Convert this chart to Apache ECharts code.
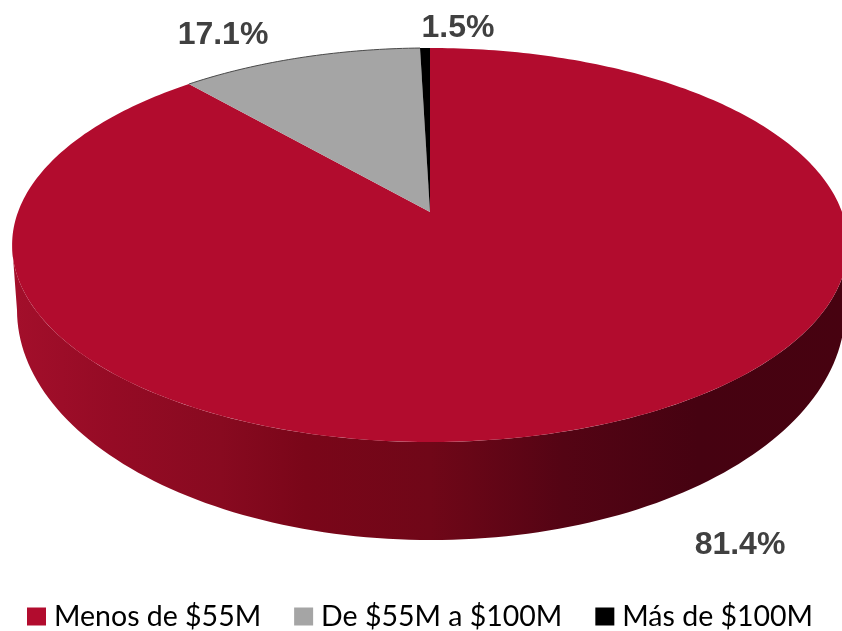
<!DOCTYPE html>
<html>
<head>
<meta charset="utf-8">
<style>
html, body { margin: 0; background: #fff; }
#chart { width: 842px; height: 631px; }
</style>
<script src="https://cdn.jsdelivr.net/npm/echarts@6/dist/echarts.min.js"></script>
</head>
<body>
<div id="chart"></div>
<script>
const categories = ['Menos de $55M', 'De $55M a $100M', 'Más de $100M']
// printed labels do not match the slice sizes in the picture, so both are kept
const printedLabels = ['81.4%', '17.1%', '1.5%']
const drawnShares = [88.55, 11.0, 0.45]
const colors = ['#b20c2e', '#a5a5a5', '#000000']

const labelPos = [[740, 545], [223, 35], [458, 28]]

// perspective of the tilted disc
const cx = 430, cy = 212, R = 412, S = 191.5, k = 0.1674
// lower edge of the wall
const base = { cx: 431, cy: 310, a: 414, b: 230 }

function project(angle) {
  const u = Math.sin(angle), v = -Math.cos(angle), w = 1 - k * v
  return [cx + R * u / w, cy + S * v / w]
}

function arcPoints(from, to) {
  const points = []
  const steps = Math.max(2, Math.ceil((to - from) * 60))
  for (let i = 0; i <= steps; i++) {
    points.push(project(from + (to - from) * i / steps))
  }
  return points
}

function wallPoints() {
  const points = []
  for (let i = 0; i <= 120; i++) {
    const t = Math.PI * i / 120
    points.push([base.cx + base.a * Math.cos(t), base.cy + base.b * Math.sin(t)])
  }
  // back along the front rim of the top face
  const ea = R / Math.sqrt(1 - k * k), eb = 197, ey = 245
  for (let i = 0; i <= 120; i++) {
    const t = Math.PI * (1 - i / 120)
    points.push([cx + ea * Math.cos(t), ey + eb * Math.sin(t)])
  }
  return points
}

const total = drawnShares.reduce((a, b) => a + b, 0)

function makeSeries(name, index) {
  const before = drawnShares.slice(0, index).reduce((a, b) => a + b, 0)
  return {
    type: 'custom',
    name: name,
    coordinateSystem: 'none',
    animation: false,
    silent: true,
    itemStyle: { color: colors[index] },
    data: [[drawnShares[index]]],
    renderItem: function (params, api) {
      const from = before / total * Math.PI * 2
      const to = (before + api.value(0)) / total * Math.PI * 2
      const children = []
      if (index === 0) {
        children.push({
          type: 'polygon',
          shape: { points: wallPoints() },
          style: {
            fill: new echarts.graphic.LinearGradient(0, 0, 1, 0, [
              { offset: 0, color: '#a30f2b' },
              { offset: 0.12, color: '#950b25' },
              { offset: 0.25, color: '#880a20' },
              { offset: 0.35, color: '#7a0619' },
              { offset: 0.5, color: '#700718' },
              { offset: 0.66, color: '#540414' },
              { offset: 0.82, color: '#460211' },
              { offset: 1, color: '#470210' }
            ])
          }
        })
      }
      const arc = arcPoints(from, to)
      children.push({
        type: 'polygon',
        shape: { points: [[cx, cy]].concat(arc) },
        style: { fill: colors[index] }
      })
      // thin dark edge along the back of the grey slice
      if (index === 1) {
        children.push({
          type: 'polyline',
          shape: { points: arc },
          style: { fill: 'none', stroke: '#4a4a4a', lineWidth: 1 }
        })
      }
      return { type: 'group', children: children }
    }
  }
}

const chart = echarts.init(document.getElementById('chart'))
chart.setOption({
  backgroundColor: '#ffffff',
  legend: {
    data: categories,
    left: 22,
    top: 597,
    icon: 'rect',
    itemWidth: 19,
    itemHeight: 18,
    itemGap: 33,
    selectedMode: false,
    textStyle: { fontFamily: 'Lato', fontSize: 28.5, color: '#000000', padding: [0, 0, 0, 3] }
  },
  graphic: printedLabels.map((text, i) => ({
    type: 'text',
    x: labelPos[i][0],
    y: labelPos[i][1],
    style: {
      text: text,
      fill: '#404040',
      font: 'bold 32px "Liberation Sans"',
      align: 'center',
      verticalAlign: 'middle'
    }
  })),
  series: categories.map(makeSeries)
})
</script>
</body>
</html>
